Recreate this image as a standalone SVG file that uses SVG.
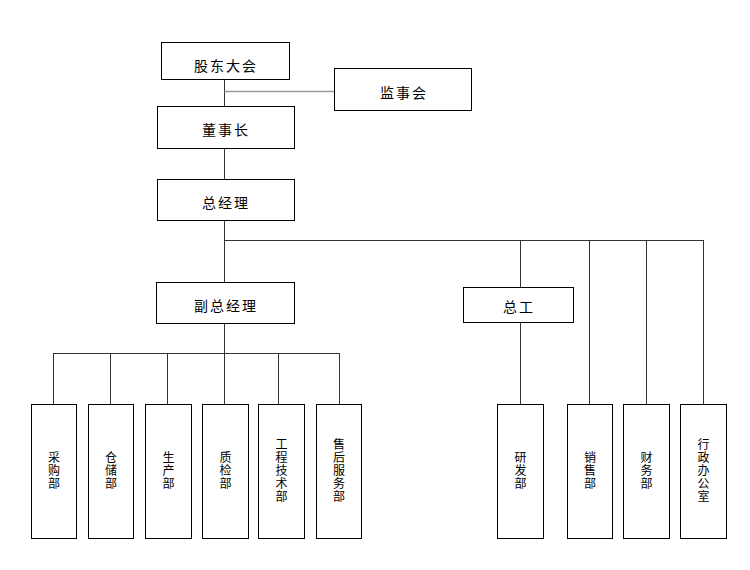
<svg xmlns="http://www.w3.org/2000/svg" width="750" height="570" viewBox="0 0 750 570">
<style>
.box{fill:#fff;stroke:#000;stroke-width:1}
.ln{stroke:#333;stroke-width:1;fill:none}
.lg{stroke:#999;stroke-width:1.5;fill:none}
.t{font-family:"Noto Sans CJK SC","Liberation Sans",sans-serif;font-size:14px;fill:#000;text-anchor:middle;dominant-baseline:central;letter-spacing:2px}
.v{font-family:"Noto Sans CJK SC","Liberation Sans",sans-serif;font-size:12px;fill:#000;text-anchor:middle;dominant-baseline:central;writing-mode:vertical-rl;letter-spacing:1px}
</style>
<rect width="750" height="570" fill="#fff"/>
<g id="connectors">
<line class="ln" x1="224.5" y1="79" x2="224.5" y2="106"/>
<line class="lg" x1="224.5" y1="91.5" x2="334" y2="91.5"/>
<line class="ln" x1="224.5" y1="148" x2="224.5" y2="179"/>
<line class="ln" x1="224.5" y1="220" x2="224.5" y2="282"/>
<line class="ln" x1="224.5" y1="240.5" x2="703.5" y2="240.5"/>
<line class="ln" x1="520.5" y1="240" x2="520.5" y2="287"/>
<line class="ln" x1="520.5" y1="322" x2="520.5" y2="404"/>
<line class="ln" x1="589.5" y1="240" x2="589.5" y2="404"/>
<line class="ln" x1="646.5" y1="240" x2="646.5" y2="404"/>
<line class="ln" x1="703.5" y1="240" x2="703.5" y2="404"/>
<line class="ln" x1="224.5" y1="323" x2="224.5" y2="404"/>
<line class="ln" x1="53.5" y1="353.5" x2="339.5" y2="353.5"/>
<line class="ln" x1="53.5" y1="353" x2="53.5" y2="404"/>
<line class="ln" x1="110.5" y1="353" x2="110.5" y2="404"/>
<line class="ln" x1="167.5" y1="353" x2="167.5" y2="404"/>
<line class="ln" x1="278.5" y1="353" x2="278.5" y2="404"/>
<line class="ln" x1="339.5" y1="353" x2="339.5" y2="404"/>
</g>
<g id="n-gudong"><rect class="box" x="161.5" y="42.5" width="128" height="37"/><text class="t" x="226" y="65">股东大会</text></g>
<g id="n-jianshi"><rect class="box" x="334.5" y="68.5" width="137" height="42"/><text class="t" x="404" y="92">监事会</text></g>
<g id="n-dongshi"><rect class="box" x="157.5" y="106.5" width="137" height="42"/><text class="t" x="226" y="129">董事长</text></g>
<g id="n-zongjingli"><rect class="box" x="157.5" y="179.5" width="137" height="41"/><text class="t" x="226" y="202">总经理</text></g>
<g id="n-fuzong"><rect class="box" x="156.5" y="282.5" width="138" height="41"/><text class="t" x="226" y="305">副总经理</text></g>
<g id="n-zonggong"><rect class="box" x="463.5" y="287.5" width="110" height="35"/><text class="t" x="519" y="306">总工</text></g>
<g id="n-caigou"><rect class="box" x="31.5" y="404.5" width="45" height="134"/><text class="v" x="54" y="471">采购部</text></g>
<g id="n-cangchu"><rect class="box" x="88.5" y="404.5" width="45" height="134"/><text class="v" x="111" y="471">仓储部</text></g>
<g id="n-shengchan"><rect class="box" x="145.5" y="404.5" width="46" height="134"/><text class="v" x="168.5" y="471">生产部</text></g>
<g id="n-zhijian"><rect class="box" x="202.5" y="404.5" width="46" height="134"/><text class="v" x="225.5" y="471">质检部</text></g>
<g id="n-gongcheng"><rect class="box" x="258.5" y="404.5" width="46" height="134"/><text class="v" x="281.5" y="471">工程技术部</text></g>
<g id="n-shouhou"><rect class="box" x="316.5" y="404.5" width="45" height="134"/><text class="v" x="339" y="471">售后服务部</text></g>
<g id="n-yanfa"><rect class="box" x="497.5" y="404.5" width="46" height="134"/><text class="v" x="520.5" y="471">研发部</text></g>
<g id="n-xiaoshou"><rect class="box" x="567.5" y="404.5" width="45" height="134"/><text class="v" x="590" y="471">销售部</text></g>
<g id="n-caiwu"><rect class="box" x="623.5" y="404.5" width="46" height="134"/><text class="v" x="646.5" y="471">财务部</text></g>
<g id="n-xingzheng"><rect class="box" x="680.5" y="404.5" width="46" height="134"/><text class="v" x="703.5" y="471">行政办公室</text></g>
</svg>
